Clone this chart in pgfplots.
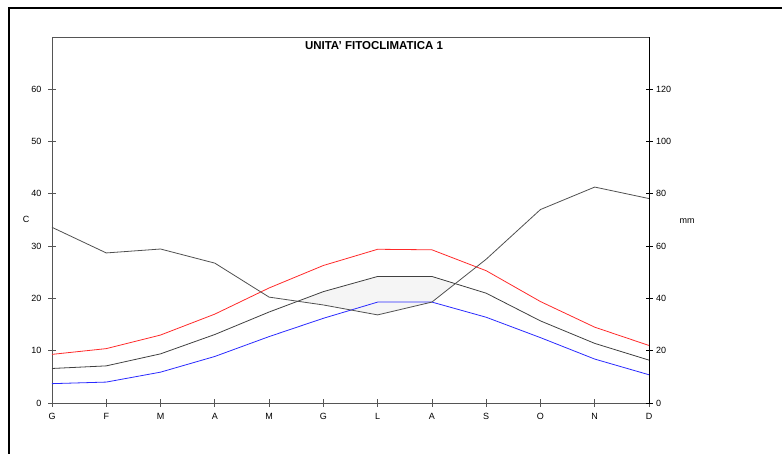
\documentclass[border=0pt]{standalone}
\usepackage{pgfplots}
\pgfplotsset{compat=1.18}
\usepackage{pgfplotstable}
\usepgfplotslibrary{fillbetween}
\usepackage{fontspec}
\setmainfont{Liberation Sans}
\definecolor{axgrey}{HTML}{555555}
\definecolor{tred}{HTML}{FF2A2A}
\definecolor{tblue}{HTML}{2A2AFF}
\definecolor{tmean}{HTML}{404040}
\definecolor{prec}{HTML}{505050}
\definecolor{aridfill}{HTML}{F5F5F5}
\pgfplotstableread{
m Tmax Tmean Tmin P
0 9.3 6.6 3.7 67.2
1 10.4 7.1 4.0 57.4
2 13.0 9.4 5.9 58.9
3 17.0 13.1 8.9 53.5
4 22.0 17.4 12.7 40.5
5 26.3 21.3 16.2 37.5
6 29.4 24.2 19.3 33.7
7 29.3 24.2 19.3 38.6
8 25.3 21.0 16.4 55.0
9 19.4 15.7 12.5 74.0
10 14.5 11.4 8.4 82.6
11 11.0 8.2 5.4 78.2
}\clima
\begin{document}
\begin{tikzpicture}[x=1pt,y=1pt]
\draw[line width=2.5pt,black] (9,0) -- (9,446) -- (782,446);
\begin{axis}[
  at={(52pt,51pt)}, anchor=origin,
  scale only axis, width=597pt, height=366pt,
  set layers,
  xmin=0, xmax=11, ymin=0, ymax=70,
  xtick={0,...,11},
  xticklabels={G,F,M,A,M,G,L,A,S,O,N,D},
  ytick={0,10,...,60},
  xtick pos=bottom, ytick pos=left,
  tick align=center, major tick length=8pt,
  axis line style={axgrey, line width=0.8pt},
  every tick/.style={axgrey, line width=0.8pt},
  tick label style={font=\fontsize{9}{10}\selectfont, text=black},
  yticklabel style={xshift=-3pt},
  xticklabel style={yshift=-3pt},
  /pgf/number format/assume math mode=true,
  clip=false,
]
\addplot[name path=tm, draw=none, forget plot] table[x=m, y=Tmean] {\clima};
\addplot[name path=pp, draw=none, forget plot] table[x=m, y expr=\thisrow{P}/2] {\clima};
\addplot[aridfill, forget plot] fill between[of=tm and pp, soft clip={domain=4.49:7.43}];
\addplot[tred, line width=0.8pt] table[x=m, y=Tmax] {\clima};
\addplot[tblue, line width=0.8pt] table[x=m, y=Tmin] {\clima};
\addplot[tmean, line width=0.8pt] table[x=m, y=Tmean] {\clima};
\addplot[prec, line width=0.8pt] table[x=m, y expr=\thisrow{P}/2] {\clima};
\end{axis}
\begin{axis}[
  at={(52pt,51pt)}, anchor=origin,
  scale only axis, width=597pt, height=366pt,
  xmin=0, xmax=11, ymin=0, ymax=140,
  axis x line=none, axis y line*=right,
  ytick={0,20,...,120},
  tick align=center, major tick length=7pt,
  axis line style={black, line width=0.8pt},
  every tick/.style={black, line width=0.8pt},
  tick label style={font=\fontsize{9}{10}\selectfont, text=black},
  /pgf/number format/assume math mode=true,
]
\addplot[draw=none, forget plot] table[x=m, y=P] {\clima};
\end{axis}
\node[font=\bfseries\fontsize{11.5}{13}\selectfont, text=black] at (374,408) {UNITA' FITOCLIMATICA 1};
\node[font=\fontsize{9}{10}\selectfont, text=black] at (26,235) {C};
\node[font=\fontsize{9}{10}\selectfont, text=black] at (687,233) {mm};
\pgfresetboundingbox
\useasboundingbox (0,0) rectangle (782,454);
\end{tikzpicture}
\end{document}
